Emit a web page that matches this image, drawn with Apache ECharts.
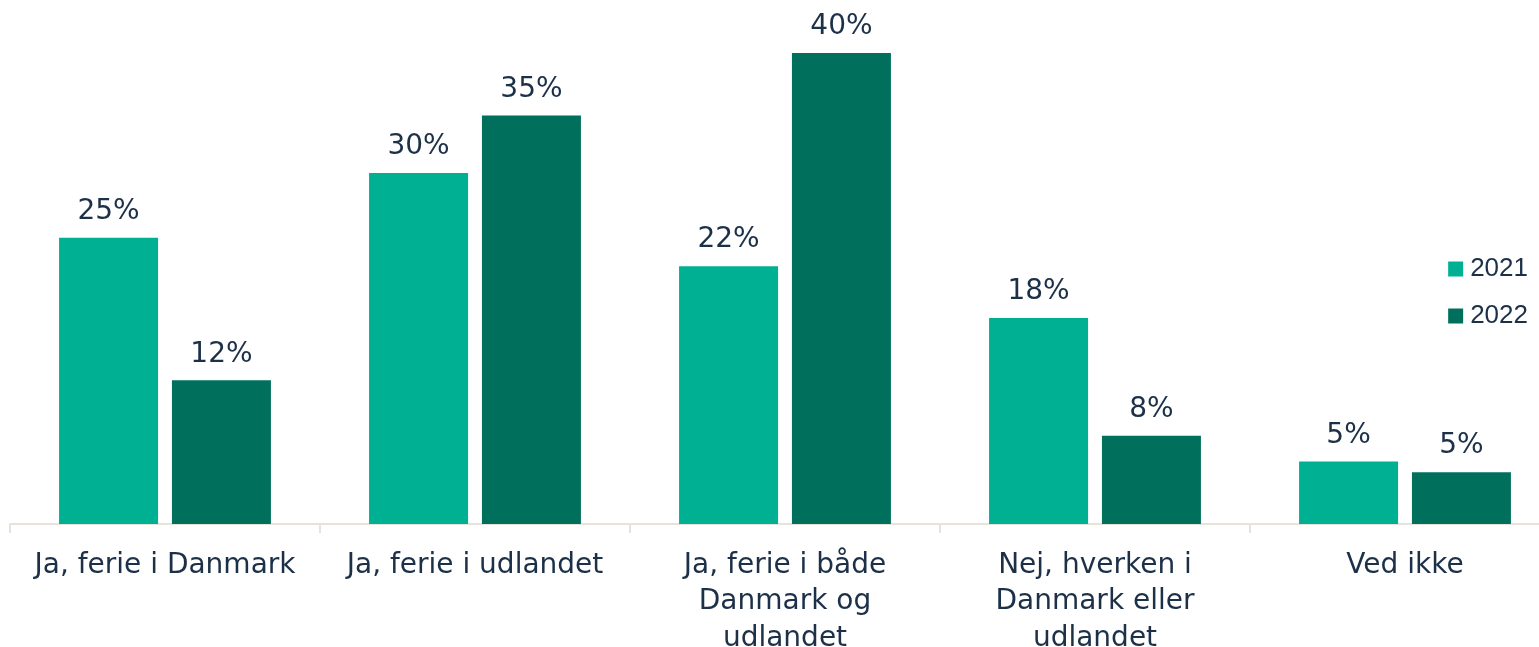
<!DOCTYPE html>
<html>
<head>
<meta charset="utf-8">
<script src="https://cdn.jsdelivr.net/npm/echarts@6/dist/echarts.min.js"></script>
<style>
	html, body { margin: 0; padding: 0; background: #ffffff; }
	#main { width: 1539px; height: 647px; }
</style>
</head>
<body>
<div id="main"></div>
<script>
var categories = [ 'Ja, ferie i Danmark', 'Ja, ferie i udlandet',
		'Ja, ferie i både\nDanmark og\nudlandet',
		'Nej, hverken i\nDanmark eller\nudlandet', 'Ved ikke' ];
var seriesNames = [ '2021', '2022' ];
// bar heights
var values2021 = [ 24.3, 29.8, 21.9, 17.5, 5.3 ];
var values2022 = [ 12.2, 34.7, 40.0, 7.5, 4.4 ];
// printed labels
var labels2021 = [ '25%', '30%', '22%', '18%', '5%' ];
var labels2022 = [ '12%', '35%', '40%', '8%', '5%' ];

var textColor = '#1c3048';
var labelFont = 'DejaVu Sans';

function barLabel(texts) {
	return {
		show : true,
		position : 'top',
		distance : 12,
		color : textColor,
		fontSize : 28,
		fontFamily : labelFont,
		formatter : function(p) {
			return texts[p.dataIndex];
		}
	};
}

var myChart = echarts.init(document.getElementById('main'));

var option = {
	animation : false,
	color : [ '#00b092', '#00705c' ],
	grid : {
		left : 10,
		top : 53,
		right : -21,
		bottom : 123,
		containLabel : false,
		outerBoundsMode : 'none'
	},
	legend : { // 图例
		orient : 'vertical',
		right : 6,
		top : 251,
		itemWidth : 15,
		itemHeight : 15,
		itemGap : 21,
		icon : 'rect',
		data : seriesNames,
		textStyle : {
			color : textColor,
			fontSize : 26,
			fontFamily : 'Liberation Sans',
			padding : [ 0, 0, 0, 2 ]
		}
	},
	xAxis : {
		type : 'category',
		data : categories,
		axisLine : {
			lineStyle : {
				color : '#e8e3da',
				width : 2
			}
		},
		axisTick : {
			show : true,
			length : 9,
			lineStyle : {
				color : '#e8e3da',
				width : 2
			}
		},
		axisLabel : {
			interval : 0,
			margin : 23,
			color : textColor,
			fontSize : 28,
			lineHeight : 36.5,
			fontFamily : labelFont
		}
	},
	yAxis : {
		type : 'value',
		min : 0,
		max : 40,
		show : false,
		splitLine : {
			show : false
		}
	},
	series : [ {
		name : seriesNames[0],
		type : 'bar',
		barWidth : 99,
		barGap : '14%',
		label : barLabel(labels2021),
		data : values2021
	}, {
		name : seriesNames[1],
		type : 'bar',
		barWidth : 99,
		barGap : '14%',
		label : barLabel(labels2022),
		data : values2022
	} ]
};

myChart.setOption(option);
</script>
</body>
</html>
